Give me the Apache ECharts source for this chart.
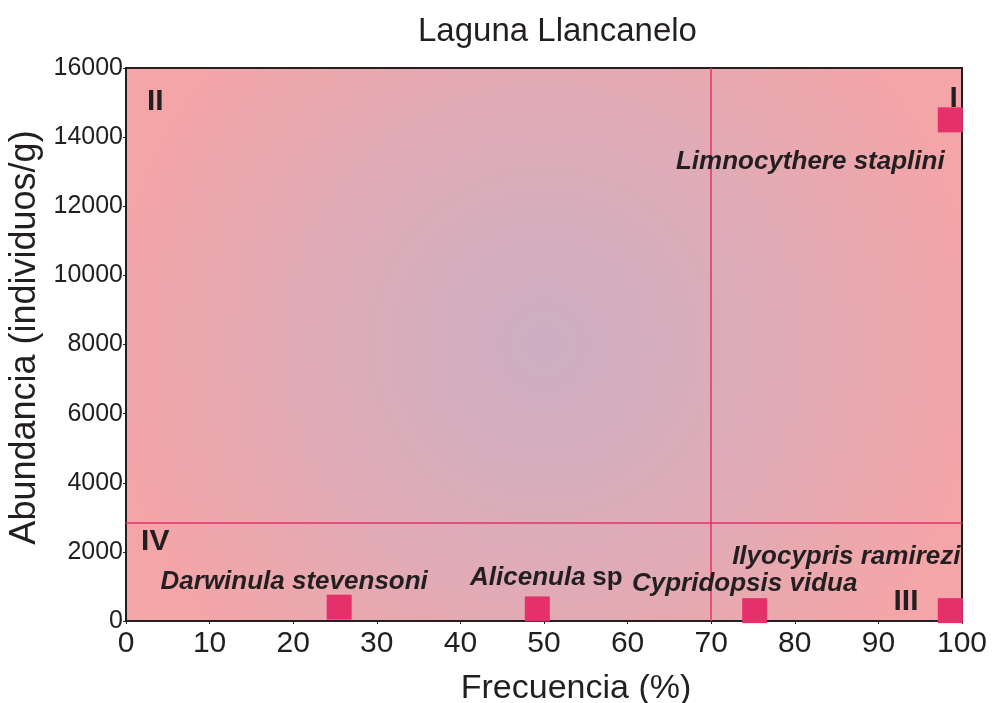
<!DOCTYPE html>
<html>
<head>
<meta charset="utf-8">
<script src="https://cdn.jsdelivr.net/npm/echarts@6/dist/echarts.min.js"></script>
<style>html,body{margin:0;padding:0;background:#fff;overflow:hidden;}#c{width:997px;height:703px;}</style>
</head>
<body>
<div id="c"></div>
<script>
// Data
const species = ['Limnocythere staplini', 'Darwinula stevensoni', 'Alicenula sp', 'Cypridopsis vidua', 'Ilyocypris ramirezi'];
const frecuencia = [98.6, 25.5, 49.2, 75.2, 98.6];
const abundancia = [14500, 400, 350, 300, 300];
const xThreshold = 70;
const yThreshold = 2850;
const quadrantNames = ['I', 'II', 'III', 'IV'];
const quadrantX = [99.0, 3.5, 93.3, 3.5];
const quadrantY = [15100, 15010, 550, 2280];
const xTicks = [0, 10, 20, 30, 40, 50, 60, 70, 80, 90, 100];
const yTicks = [0, 2000, 4000, 6000, 8000, 10000, 12000, 14000, 16000];

// label placement (layout only)
const labelOffsets = [[-140, 42], [-45, -25], [9, -31], [-10, -27], [-104, -54]];

const FONT = '"Liberation Sans", Arial, Helvetica, sans-serif';
const DARK = '#231f20';
const MAG = '#e6306b';

const chart = echarts.init(document.getElementById('c'), null, {renderer: 'canvas', width: 997, height: 703});

const pointData = species.map((s, i) => ({
  name: s,
  value: [frecuencia[i], abundancia[i]],
  label: {offset: labelOffsets[i]}
}));

const quadData = quadrantNames.map((n, i) => ({name: n, value: [quadrantX[i], quadrantY[i]]}));

chart.setOption({
  animation: false,
  backgroundColor: '#ffffff',
  title: {
    text: 'Laguna Llancanelo',
    left: 413,
    top: 10,
    textStyle: {fontFamily: FONT, fontSize: 33, fontWeight: 'normal', color: DARK}
  },
  grid: {
    left: 126, right: 35, top: 68, bottom: 82,
    containLabel: false,
    outerBoundsMode: 'none',
    show: true,
    borderColor: DARK,
    borderWidth: 2,
    backgroundColor: {
      type: 'radial', x: 0.5, y: 0.5, r: 0.8,
      colorStops: [
        {offset: 0, color: '#ccaec2'},
        {offset: 0.45, color: '#dcacb8'},
        {offset: 1, color: '#f4a5a7'}
      ]
    }
  },
  xAxis: {
    type: 'value', min: 0, max: 100, interval: 10,
    name: 'Frecuencia (%)',
    nameLocation: 'middle',
    nameGap: 51,
    nameTextStyle: {fontFamily: FONT, fontSize: 34, color: DARK, padding: [0, 0, 0, 64]},
    axisLine: {show: true, lineStyle: {color: DARK, width: 2}},
    axisTick: {show: true, length: 3, lineStyle: {color: DARK}},
    axisLabel: {fontFamily: FONT, fontSize: 30, color: DARK, margin: 8,
      formatter: v => xTicks.includes(v) ? String(v) : ''},
    splitLine: {show: false}
  },
  yAxis: {
    type: 'value', min: 0, max: 16000, interval: 2000,
    name: 'Abundancia (individuos/g)',
    nameLocation: 'middle',
    nameGap: 83,
    nameTextStyle: {fontFamily: FONT, fontSize: 36, color: DARK, padding: [0, 0, 0, 14]},
    axisLine: {show: true, lineStyle: {color: DARK, width: 2}},
    axisTick: {show: true, length: 3, lineStyle: {color: DARK}},
    axisLabel: {fontFamily: FONT, fontSize: 25, color: DARK, margin: 3,
      formatter: v => yTicks.includes(v) ? String(v) : ''},
    splitLine: {show: false}
  },
  series: [
    {
      type: 'scatter',
      symbol: 'rect',
      symbolSize: 25,
      itemStyle: {color: MAG, opacity: 1},
      data: pointData,
      z: 3,
      label: {
        show: true,
        position: 'inside',
        formatter: p => p.name === 'Alicenula sp' ? '{i|Alicenula}  {n|sp}' : '{i|' + p.name + '}',
        rich: {
          i: {fontFamily: FONT, fontSize: 26, fontWeight: 'bold', fontStyle: 'italic', color: DARK},
          n: {fontFamily: FONT, fontSize: 26, fontWeight: 'bold', fontStyle: 'normal', color: DARK}
        }
      },
      emphasis: {disabled: true},
      markLine: {
        silent: true,
        symbol: 'none',
        label: {show: false},
        lineStyle: {color: MAG, width: 1.5, type: 'solid', opacity: 1},
        data: [{xAxis: xThreshold}, {yAxis: yThreshold}],
        z: 2
      }
    },
    {
      type: 'scatter',
      symbolSize: 0,
      itemStyle: {opacity: 1},
      data: quadData,
      z: 4,
      silent: true,
      label: {
        show: true,
        position: 'inside',
        formatter: p => p.name,
        fontFamily: FONT, fontSize: 30, fontWeight: 'bold', color: DARK, opacity: 1
      }
    }
  ]
});
</script>
</body>
</html>
